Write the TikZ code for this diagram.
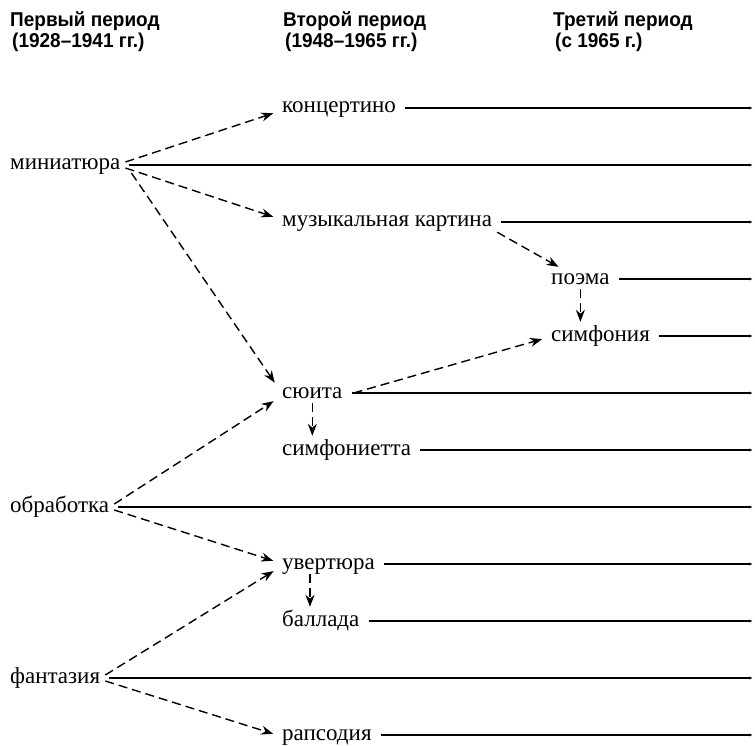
\documentclass[tikz,border=0pt]{standalone}
\usepackage{fontspec}
\setmainfont{Liberation Serif}
\newfontfamily\periodfont[FakeStretch=0.95]{Liberation Sans}
\usetikzlibrary{arrows.meta}

\begin{document}
\begin{tikzpicture}[
    x=1pt, y=-1pt,
    genre/.style={anchor=west, inner sep=5pt, text height=10pt, text depth=0pt, font=\fontsize{23}{26}\selectfont},
    period/.style={anchor=base west, inner sep=0pt, font=\periodfont\bfseries\fontsize{20}{22}\selectfont},
    arrow/.style={-{Stealth[length=12pt, width=9pt]}, dash pattern=on 9pt off 5pt, line width=1.4pt, shorten >=4pt},
    track/.style={-{Latex[length=4pt, width=3pt]}, line width=1.2pt, shorten <=4pt},
]
\useasboundingbox (0,0) rectangle (755,746);
\coordinate (edge) at (753,0);

\node[period] (p1) at (10,27) {Первый период};
\node[period] (p1y) at (12,48) {(1928–1941 гг.)};
\node[period] (p2) at (283,27) {Второй период};
\node[period] (p2y) at (285,48) {(1948–1965 гг.)};
\node[period] (p3) at (553,27) {Третий период};
\node[period] (p3y) at (555,48) {(с 1965 г.)};

\node[genre] (miniature) at (5,165) {миниатюра};
\node[genre] (arrangement) at (5,507) {обработка};
\node[genre] (fantasy) at (5,678) {фантазия};

\node[genre] (concertino) at (277,108) {концертино};
\node[genre] (picture) at (277,222) {музыкальная картина};
\node[genre] (suite) at (277,393) {сюита};
\node[genre] (sinfonietta) at (277,450) {симфониетта};
\node[genre] (overture) at (277,564) {увертюра};
\node[genre] (ballad) at (277,621) {баллада};
\node[genre] (rhapsody) at (277,735) {рапсодия};

\node[genre] (poem) at (546,279) {поэма};
\node[genre] (symphony) at (546,336) {симфония};

\draw[track] (concertino.east) -- (concertino.east -| edge);
\draw[track] (miniature.east) -- (miniature.east -| edge);
\draw[track] (picture.east) -- (picture.east -| edge);
\draw[track] (poem.east) -- (poem.east -| edge);
\draw[track] (symphony.east) -- (symphony.east -| edge);
\draw[track] (suite.east) -- (suite.east -| edge);
\draw[track] (sinfonietta.east) -- (sinfonietta.east -| edge);
\draw[track] (arrangement.east) -- (arrangement.east -| edge);
\draw[track] (overture.east) -- (overture.east -| edge);
\draw[track] (ballad.east) -- (ballad.east -| edge);
\draw[track] (fantasy.east) -- (fantasy.east -| edge);
\draw[track] (rhapsody.east) -- (rhapsody.east -| edge);

\draw[arrow] ([yshift=3pt]miniature.east) -- ([yshift=-4pt]concertino.west);
\draw[arrow] ([yshift=-3pt]miniature.east) -- ([yshift=4pt]picture.west);
\draw[arrow] ([xshift=6pt, yshift=-8pt]miniature.east) -- ([yshift=7pt]suite.west);
\draw[arrow] (picture.south east) -- ([xshift=16pt]poem.north west);
\draw[arrow] (poem.south) -- (poem.south |- symphony.north);
\draw[arrow] ([xshift=6pt]suite.east) -- ([yshift=-2pt]symphony.west);
\draw[arrow] (suite.south) -- (suite.south |- sinfonietta.north);
\draw[arrow] ([yshift=3pt]arrangement.east) -- ([yshift=-6pt]suite.west);
\draw[arrow] ([yshift=-3pt]arrangement.east) -- ([yshift=2pt]overture.west);
\draw[arrow] ([xshift=33pt]overture.south west) -- ([xshift=33pt]overture.south west |- ballad.north);
\draw[arrow] ([yshift=3pt]fantasy.east) -- ([yshift=-5pt]overture.west);
\draw[arrow] ([yshift=-3pt]fantasy.east) -- (rhapsody.west);

\end{tikzpicture}
\end{document}
